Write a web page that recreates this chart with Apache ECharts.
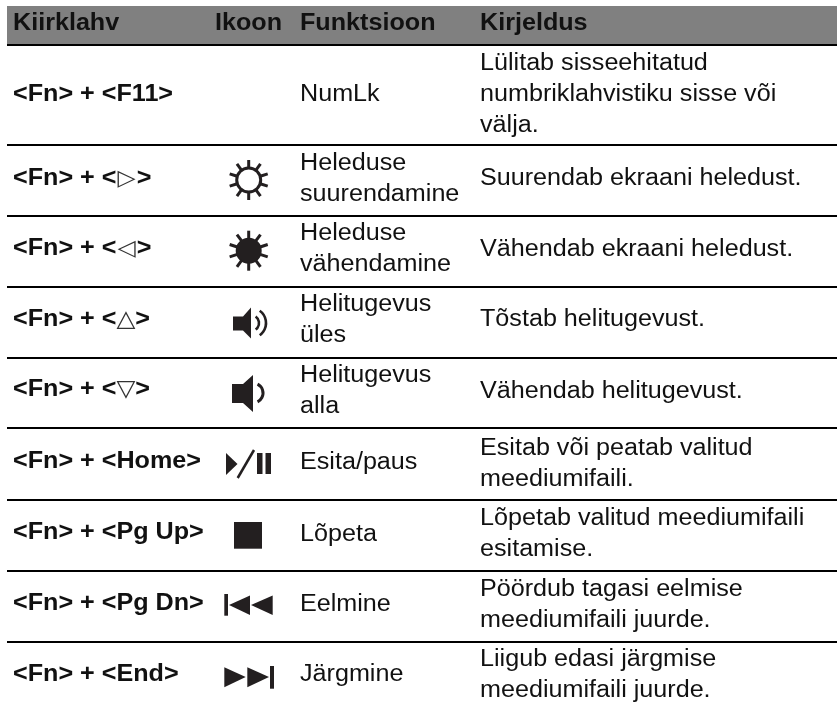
<!DOCTYPE html>
<html><head><meta charset="utf-8">
<style>html,body{margin:0;background:#fff}#c{width:837px;height:709px}</style>
<script src="https://cdn.jsdelivr.net/npm/echarts@6/dist/echarts.min.js"></script>
</head><body><div id="c"></div><script>
const headers = ['Kiirklahv','Ikoon','Funktsioon','Kirjeldus'];
const keys = ['<Fn> + <F11>','<Fn> + <{a|▷}>','<Fn> + <{a|◁}>','<Fn> + <{b|△}>','<Fn> + <{b|▽}>','<Fn> + <Home>','<Fn> + <Pg Up>','<Fn> + <Pg Dn>','<Fn> + <End>'];
const functions = ['NumLk','Heleduse\nsuurendamine','Heleduse\nvähendamine','Helitugevus\nüles','Helitugevus\nalla','Esita/paus','Lõpeta','Eelmine','Järgmine'];
const descriptions = ['Lülitab sisseehitatud\nnumbriklahvistiku sisse või\nvälja.','Suurendab ekraani heledust.','Vähendab ekraani heledust.','Tõstab helitugevust.','Vähendab helitugevust.','Esitab või peatab valitud\nmeediumifaili.','Lõpetab valitud meediumifaili\nesitamise.','Pöördub tagasi eelmise\nmeediumifaili juurde.','Liigub edasi järgmise\nmeediumifaili juurde.'];
const rowLines = [145,216,287,358,428,500,571,642];
const keyCenters = [95,179,249,320,390,462,533,604,675];
const funcCenters = [95,179,249,320,391,463,535,605,675];
const descCenters = [95,179,250,320,392,464,534,605,675];
const F='"Liberation Sans",Arial,sans-serif', INK='#231f20', SX=1.07;
const els=[];
els.push({type:'rect',shape:{x:7,y:6,width:830,height:38},style:{fill:'#808080'}});
els.push({type:'rect',shape:{x:7,y:44,width:830,height:2},style:{fill:'#000'}});
rowLines.forEach(y=>els.push({type:'rect',shape:{x:7,y:y-1,width:830,height:2},style:{fill:'#000'}}));
const hx=[13,215,300,480];
headers.forEach((h,i)=>els.push({type:'text',x:hx[i],y:24,scaleX:SX,style:{text:h,font:'bold 23.5px '+F,fill:'#111',verticalAlign:'middle'}}));
function txt(t,x,y,bold){els.push({type:'text',x,y,scaleX:SX,style:{text:t,fontFamily:'Liberation Sans',fontSize:23.5,fontWeight:bold?'bold':'normal',fill:'#111',verticalAlign:'middle',lineHeight:31,rich:{
  a:{fontFamily:'DejaVu Sans',fontSize:22,fontWeight:'normal',fill:'#333',padding:[0,1,0,1]},
  b:{fontFamily:'DejaVu Sans',fontSize:23,fontWeight:'normal',fill:'#333'}}}});}
keys.forEach((k,i)=>txt(k,13,keyCenters[i],true));
functions.forEach((k,i)=>txt(k,300,funcCenters[i],false));
descriptions.forEach((k,i)=>txt(k,480,descCenters[i],false));
// icons
function poly(pts){els.push({type:'polygon',shape:{points:pts},style:{fill:INK}});}
function box(x,y,w,h){els.push({type:'rect',shape:{x,y,width:w,height:h},style:{fill:INK}});}
function arc(cx,cy,r,a,lw){els.push({type:'arc',shape:{cx,cy,r,startAngle:-a,endAngle:a},style:{stroke:INK,fill:'none',lineWidth:lw}});}
function sun(cx,cy,filled){
  els.push({type:'circle',shape:{cx,cy,r:filled?13:12},style:{fill:filled?INK:'none',stroke:INK,lineWidth:filled?0:3}});
  for(let a=0;a<10;a++){const t=a*Math.PI/5-Math.PI/2;const c=Math.cos(t),s=Math.sin(t);
    els.push({type:'line',shape:{x1:cx+c*12,y1:cy+s*12,x2:cx+c*20,y2:cy+s*20},style:{stroke:INK,lineWidth:3}});}
}
sun(248.7,180,false); sun(248.7,250.7,true);
poly([[233,316.5],[243,316.5],[251,307.5],[251,338.5],[243,330.5],[233,330.5]]);
arc(251,323,8,0.95,2.6); arc(251,323,15,0.95,2.6);
poly([[232,384],[243,384],[253,375],[253,412],[243,403],[232,403]]);
arc(253,393,10,1.1,3);
poly([[226,453],[237.5,464],[226,475]]);
els.push({type:'line',shape:{x1:254,y1:450,x2:237.7,y2:478},style:{stroke:INK,lineWidth:2.5}});
box(257,453,5.5,21); box(265.5,453,5.5,21);
box(234,522,28,26.7);
box(224.3,594,3.7,21.7);
poly([[229,605],[250,595.5],[250,615]]); poly([[251,605],[272.7,595.5],[272.7,615]]);
poly([[224.3,667.3],[245.7,677],[224.3,687.3]]); poly([[247.3,667.3],[269,677],[247.3,687.3]]);
box(270,666,4,22.7);
const chart=echarts.init(document.getElementById('c'));
chart.setOption({animation:false,backgroundColor:'#fff',graphic:{elements:els}});
</script></body></html>
